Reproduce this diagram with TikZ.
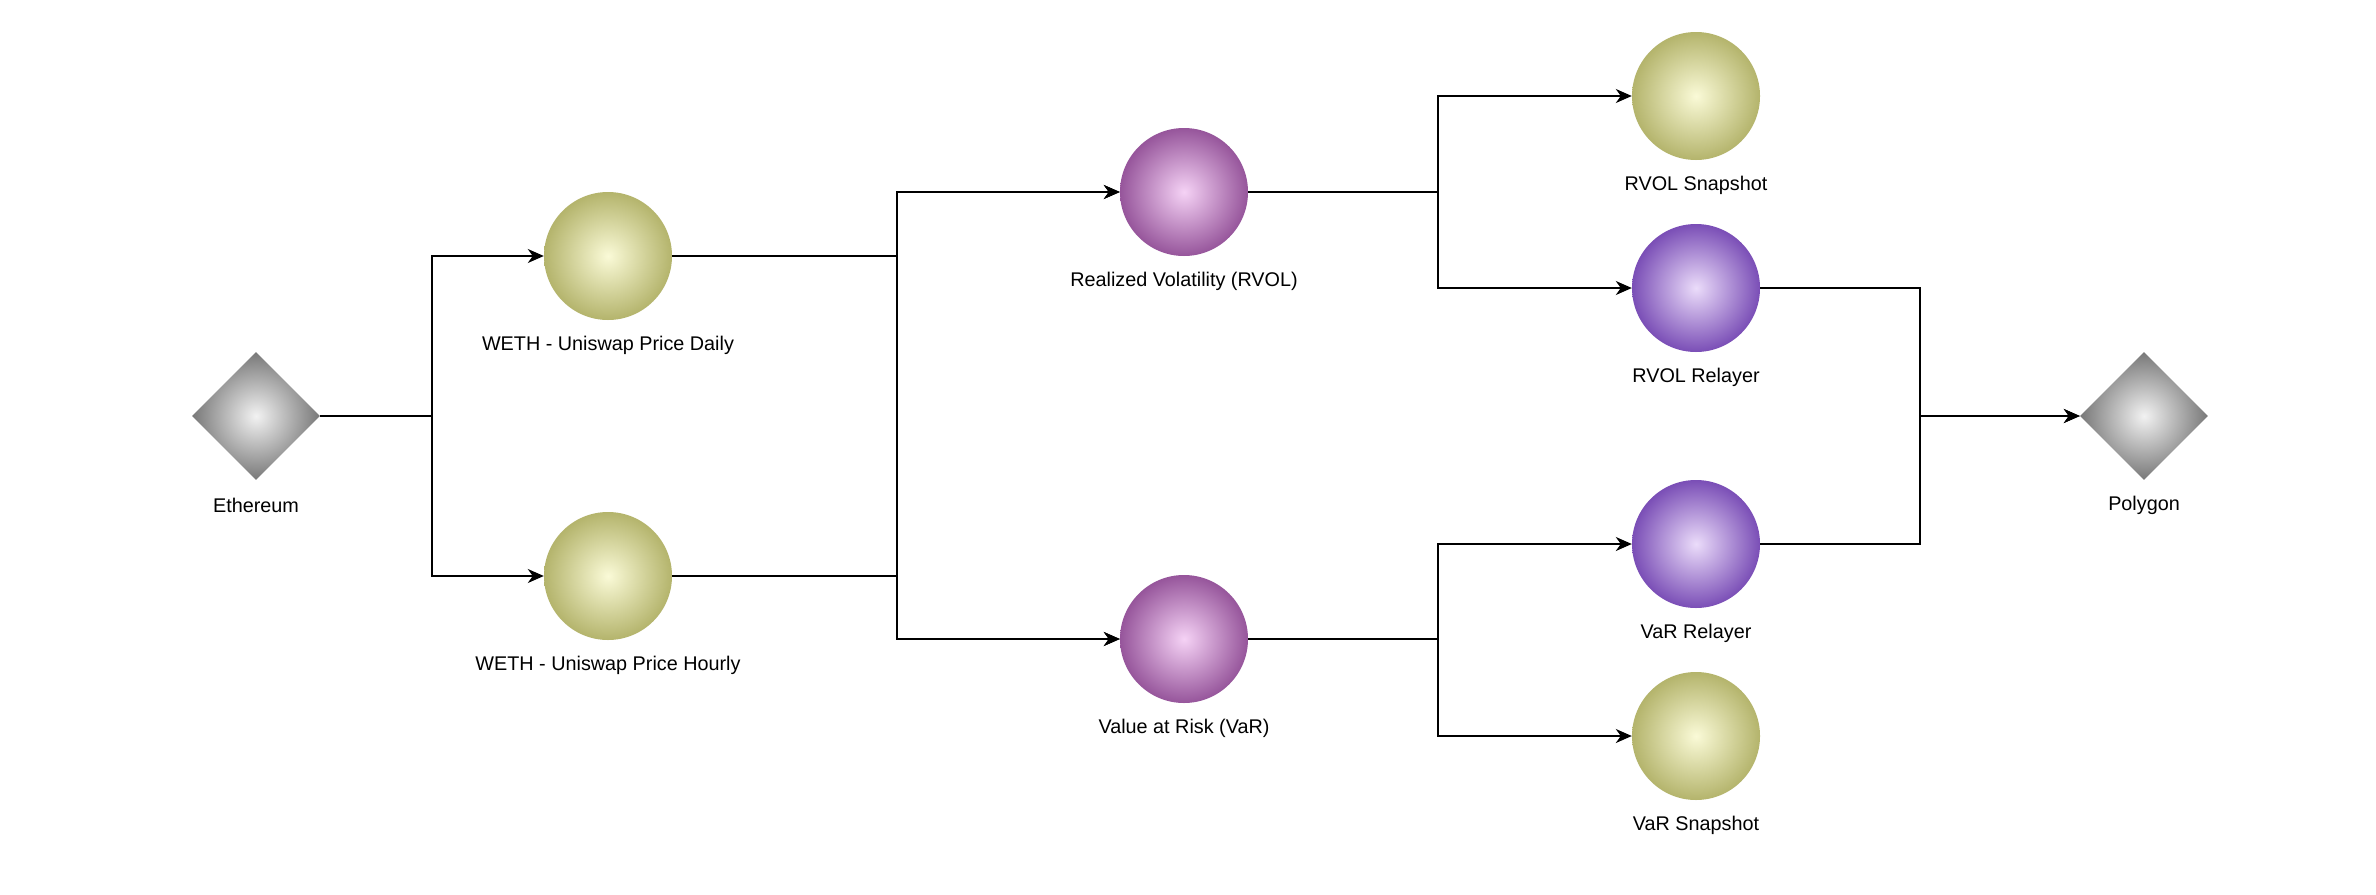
\documentclass[tikz,border=0pt]{standalone}
\usepackage{fontspec}
\setmainfont{Liberation Sans}
\usetikzlibrary{shapes.geometric,arrows.meta}
\begin{document}
\begin{tikzpicture}[x=1pt,y=-1pt,
  ball/.style={circle,draw=none,minimum size=128pt,inner sep=0pt},
  olive/.style={ball,inner color={rgb,255:red,250;green,250;blue,215},outer color={rgb,255:red,180;green,180;blue,108}},
  plum/.style={ball,inner color={rgb,255:red,245;green,210;blue,245},outer color={rgb,255:red,150;green,85;blue,155}},
  violet/.style={ball,inner color={rgb,255:red,235;green,220;blue,250},outer color={rgb,255:red,122;green,78;blue,182}},
  gem/.style={diamond,draw=none,minimum width=128pt,minimum height=128pt,inner sep=0pt,aspect=1,
    inner color={rgb,255:red,242;green,242;blue,242},outer color={rgb,255:red,120;green,120;blue,120}},
  lbl/.style={font=\fontsize{19.8}{23}\selectfont,text=black,inner sep=0pt,anchor=center},
  arr/.style={line width=1.7pt,-{Stealth[length=16pt,width=14pt,inset=5pt]}}]
\useasboundingbox[fill=white] (0,0) rectangle (2376,894);
% nodes
\node[gem] (eth) at (256,416) {};
\node[olive] (daily) at (608,256) {};
\node[olive] (hourly) at (608,576) {};
\node[plum] (rvol) at (1184,192) {};
\node[plum] (var) at (1184,639) {};
\node[olive] (rsnap) at (1696,96) {};
\node[violet] (rrel) at (1696,288) {};
\node[violet] (vrel) at (1696,544) {};
\node[olive] (vsnap) at (1696,736) {};
\node[gem] (poly) at (2144,416) {};
% labels
\node[lbl] (ethl) at ([yshift=-25pt]eth.south) {Ethereum};
\node[lbl] (dailyl) at ([yshift=-25pt]daily.south) {WETH - Uniswap Price Daily};
\node[lbl] (hourlyl) at ([yshift=-25pt]hourly.south) {WETH - Uniswap Price Hourly};
\node[lbl] (rvoll) at ([yshift=-25pt]rvol.south) {Realized Volatility (RVOL)};
\node[lbl] (varl) at ([yshift=-25pt]var.south) {Value at Risk (VaR)};
\node[lbl] (rsnapl) at ([yshift=-25pt]rsnap.south) {RVOL Snapshot};
\node[lbl] (rrell) at ([yshift=-25pt]rrel.south) {RVOL Relayer};
\node[lbl] (vrell) at ([yshift=-25pt]vrel.south) {VaR Relayer};
\node[lbl] (vsnapl) at ([yshift=-25pt]vsnap.south) {VaR Snapshot};
\node[lbl] (polyl) at ([yshift=-25pt]poly.south) {Polygon};
% junction x positions
\coordinate (j1) at (432,0);
\coordinate (j2) at (897,0);
\coordinate (j3) at (1438,0);
\coordinate (j4) at (1920,0);
% connectors
\draw[arr] (eth.east) -- (eth.east -| j1) |- (daily.west);
\draw[arr] (eth.east) -- (eth.east -| j1) |- (hourly.west);
\draw[arr] (daily.east) -- (daily.east -| j2) |- (rvol.west);
\draw[arr] (daily.east) -- (daily.east -| j2) |- (var.west);
\draw[arr] (hourly.east) -- (hourly.east -| j2) |- (rvol.west);
\draw[arr] (hourly.east) -- (hourly.east -| j2) |- (var.west);
\draw[arr] (rvol.east) -- (rvol.east -| j3) |- (rsnap.west);
\draw[arr] (rvol.east) -- (rvol.east -| j3) |- (rrel.west);
\draw[arr] (var.east) -- (var.east -| j3) |- (vrel.west);
\draw[arr] (var.east) -- (var.east -| j3) |- (vsnap.west);
\draw[arr] (rrel.east) -- (rrel.east -| j4) |- (poly.west);
\draw[arr] (vrel.east) -- (vrel.east -| j4) |- (poly.west);
\end{tikzpicture}
\end{document}
